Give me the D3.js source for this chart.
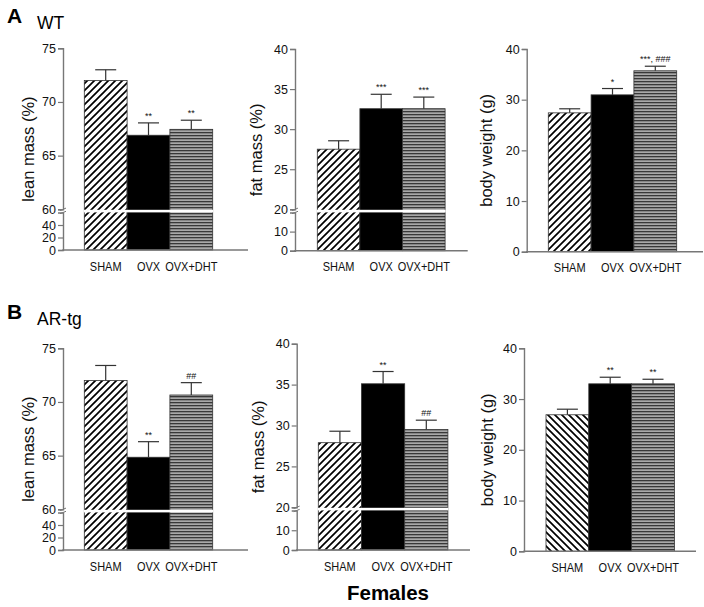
<!DOCTYPE html>
<html><head><meta charset="utf-8">
<script src="https://cdn.jsdelivr.net/npm/d3@7"></script>
<style>
body{margin:0;background:#fff}
text{font-family:"Liberation Sans", Arial, Helvetica, sans-serif}
</style>
</head><body>
<svg id="c" width="704" height="607"></svg>
<script>
// ---------- data ----------
const categories = ["SHAM", "OVX", "OVX+DHT"];

const wtLeanMean = [72.0, 66.9, 67.45];
const wtLeanSem  = [1.0, 1.15, 0.85];
const wtLeanSig  = ["", "**", "**"];

const wtFatMean = [27.5, 32.55, 32.55];
const wtFatSem  = [1.05, 1.8, 1.45];
const wtFatSig  = ["", "***", "***"];

const wtBodyMean = [27.4, 30.95, 35.7];
const wtBodySem  = [0.8, 1.25, 0.9];
const wtBodySig  = ["", "*", "***, ###"];

const tgLeanMean = [72.0, 64.85, 70.65];
const tgLeanSem  = [1.4, 1.45, 1.15];
const tgLeanSig  = ["", "**", "##"];

const tgFatMean = [27.9, 35.1, 29.5];
const tgFatSem  = [1.4, 1.5, 1.15];
const tgFatSig  = ["", "**", "##"];

const tgBodyMean = [26.9, 33.0, 33.0];
const tgBodySem  = [1.1, 1.3, 0.9];
const tgBodySig  = ["", "**", "**"];

const leanTicksUpper = [60, 65, 70, 75];
const leanTicksLower = [0, 20, 40];
const fatTicksUpper = [20, 25, 30, 35, 40];
const fatTicksLower = [0, 10];
const bodyTicks = [0, 10, 20, 30, 40];

// ---------- drawing ----------
const svg = d3.select("#c");
const defs = svg.append("defs");

function hatch(id, dir) {
  const p = defs.append("pattern").attr("id", id).attr("patternUnits", "userSpaceOnUse")
    .attr("width", 7).attr("height", 7);
  p.append("rect").attr("width", 7).attr("height", 7).attr("fill", "#fff");
  const d = dir === "fwd"
    ? "M-1,1 l2,-2 M0,7 l7,-7 M6,8 l2,-2"
    : "M-1,6 l2,2 M0,0 l7,7 M6,-1 l2,2";
  p.append("path").attr("d", d).attr("stroke", "#000").attr("stroke-width", 1.7);
}
hatch("hfwd", "fwd");
hatch("hbwd", "bwd");
const st = defs.append("pattern").attr("id", "stripe").attr("patternUnits", "userSpaceOnUse")
  .attr("width", 6).attr("height", 3);
st.append("rect").attr("width", 6).attr("height", 3).attr("fill", "#a8a8a8");
st.append("rect").attr("width", 6).attr("height", 1.3).attr("fill", "#383838");

const panels = [
  {mean: wtLeanMean, sem: wtLeanSem, sig: wtLeanSig, label: "lean mass (%)", ax: 63, x0: 84.3, bw: 42.8,
   yTop: 48.3, yBot: 250, brk: 209.3, upper: [60, 75], lower: [0, 60], tU: leanTicksUpper, tL: leanTicksLower,
   axEnd: 248, labX: 28, hatch: "hfwd"},
  {mean: wtFatMean, sem: wtFatSem, sig: wtFatSig, label: "fat mass (%)", ax: 295, x0: 317.3, bw: 42.6,
   yTop: 49, yBot: 250.7, brk: 209.3, upper: [20, 40], lower: [0, 20], tU: fatTicksUpper, tL: fatTicksLower,
   axEnd: 467.7, labX: 256, hatch: "hfwd"},
  {mean: wtBodyMean, sem: wtBodySem, sig: wtBodySig, label: "body weight (g)", ax: 526.7, x0: 548.3, bw: 42.8,
   yTop: 49, yBot: 251.7, brk: null, upper: [0, 40], tU: bodyTicks,
   axEnd: 703, labX: 486, hatch: "hfwd"},
  {mean: tgLeanMean, sem: tgLeanSem, sig: tgLeanSig, label: "lean mass (%)", ax: 63, x0: 84.3, bw: 42.8,
   yTop: 348.3, yBot: 550, brk: 509.3, upper: [60, 75], lower: [0, 60], tU: leanTicksUpper, tL: leanTicksLower,
   axEnd: 248, labX: 28, hatch: "hfwd"},
  {mean: tgFatMean, sem: tgFatSem, sig: tgFatSig, label: "fat mass (%)", ax: 296.7, x0: 318.3, bw: 43.2,
   yTop: 343.7, yBot: 550, brk: 507.3, upper: [20, 40], lower: [0, 20], tU: fatTicksUpper, tL: fatTicksLower,
   axEnd: 470, labX: 258, hatch: "hfwd"},
  {mean: tgBodyMean, sem: tgBodySem, sig: tgBodySig, label: "body weight (g)", ax: 524, x0: 546, bw: 42.8,
   yTop: 348.3, yBot: 551.3, brk: null, upper: [0, 40], tU: bodyTicks,
   axEnd: 696, labX: 487, hatch: "hbwd"}
];

const GAP = 3.2;
const fills = p => ["url(#" + p.hatch + ")", "#000", "url(#stripe)"];

panels.forEach(p => {
  const g = svg.append("g");
  const x = d3.scaleBand().domain(categories).range([p.x0, p.x0 + 3 * p.bw]).padding(0);
  let yU, yL;
  if (p.brk !== null) {
    yU = d3.scaleLinear().domain(p.upper).range([p.brk, p.yTop]);
    yL = d3.scaleLinear().domain(p.lower).range([p.yBot, p.brk + GAP]);
  } else {
    yU = d3.scaleLinear().domain(p.upper).range([p.yBot, p.yTop]);
    yL = yU;
  }
  const data = categories.map((c, i) => ({c, m: p.mean[i], s: p.sem[i], sig: p.sig[i], f: fills(p)[i]}));

  // bars
  g.selectAll("rect.bar").data(data).enter().append("rect")
    .attr("x", d => x(d.c)).attr("width", x.bandwidth())
    .attr("y", d => yU(d.m)).attr("height", d => yL(0) - yU(d.m))
    .attr("fill", d => d.f).attr("stroke", "#333").attr("stroke-width", 0.8);

  // error bars
  g.selectAll("line.eb").data(data).enter().append("line")
    .attr("x1", d => x(d.c) + x.bandwidth() / 2).attr("x2", d => x(d.c) + x.bandwidth() / 2)
    .attr("y1", d => yU(d.m)).attr("y2", d => yU(d.m + d.s))
    .attr("stroke", "#333").attr("stroke-width", 1.2);
  g.selectAll("line.cap").data(data).enter().append("line")
    .attr("x1", d => x(d.c) + x.bandwidth() / 2 - 10.5).attr("x2", d => x(d.c) + x.bandwidth() / 2 + 10.5)
    .attr("y1", d => yU(d.m + d.s)).attr("y2", d => yU(d.m + d.s))
    .attr("stroke", "#333").attr("stroke-width", 1.2);
  g.selectAll("text.sig").data(data).enter().append("text")
    .attr("x", d => x(d.c) + x.bandwidth() / 2).attr("y", d => yU(d.m + d.s) - 4)
    .attr("text-anchor", "middle").attr("font-size", 9).attr("fill", "#111")
    .text(d => d.sig);

  // break band
  if (p.brk !== null) {
    g.append("rect").attr("x", p.x0 - 0.5).attr("width", 3 * p.bw + 1)
      .attr("y", p.brk + 0.5).attr("height", GAP - 0.6).attr("fill", "#fff");
  }

  // axes
  g.append("g").attr("transform", `translate(${p.ax},0)`)
    .call(d3.axisLeft(yU).tickValues(p.tU).tickSizeOuter(0).tickSize(5).tickPadding(2).tickFormat(d3.format("d")));
  if (p.brk !== null) {
    g.append("g").attr("transform", `translate(${p.ax},0)`)
      .call(d3.axisLeft(yL).tickValues(p.tL).tickSizeOuter(0).tickSize(5).tickPadding(2).tickFormat(d3.format("d")));
    [p.brk, p.brk + GAP].forEach(yy => {
      g.append("line").attr("x1", p.ax - 3).attr("x2", p.ax + 3)
        .attr("y1", yy + 1.2).attr("y2", yy - 1.2)
        .attr("stroke", "#777").attr("stroke-width", 1);
    });
  }
  g.selectAll(".domain").attr("stroke", "#777").attr("stroke-width", 1.4);
  g.selectAll(".tick line").attr("stroke", "#777").attr("stroke-width", 1.2);
  g.selectAll(".tick text").attr("font-size", 12.5).attr("fill", "#111")
    .attr("font-family", '"Liberation Sans", Arial, sans-serif');

  // x axis baseline
  g.append("line").attr("x1", p.ax - 0.7).attr("x2", p.axEnd)
    .attr("y1", p.yBot).attr("y2", p.yBot).attr("stroke", "#777").attr("stroke-width", 1.4);
  const cats = g.selectAll("text.cat").data(categories).enter().append("text")
    .attr("x", d => x(d) + x.bandwidth() / 2).attr("y", p.yBot + 20.5)
    .attr("text-anchor", "middle").attr("font-size", 12.2).attr("fill", "#111")
    .text(d => d);
  // slightly condensed, as in the reference
  cats.each(function () {
    const w = this.getComputedTextLength();
    d3.select(this).attr("textLength", w * 0.9).attr("lengthAdjust", "spacingAndGlyphs");
  });

  // y label
  g.append("text")
    .attr("transform", `translate(${p.labX},${(p.yTop + p.yBot) / 2}) rotate(-90)`)
    .attr("text-anchor", "middle").attr("dominant-baseline", "central")
    .attr("font-size", 16.5).attr("fill", "#111").text(p.label);
});

// titles
svg.append("text").attr("x", 7).attr("y", 23).attr("font-size", 21).attr("font-weight", "bold").text("A");
svg.append("text").attr("x", 37).attr("y", 28.5).attr("font-size", 17.5).text("WT");
svg.append("text").attr("x", 7).attr("y", 319).attr("font-size", 21).attr("font-weight", "bold").text("B");
svg.append("text").attr("x", 37).attr("y", 325).attr("font-size", 17.5).text("AR-tg");
svg.append("text").attr("x", 388).attr("y", 600).attr("text-anchor", "middle")
  .attr("font-size", 20.5).attr("font-weight", "bold").text("Females");
</script>
</body></html>
